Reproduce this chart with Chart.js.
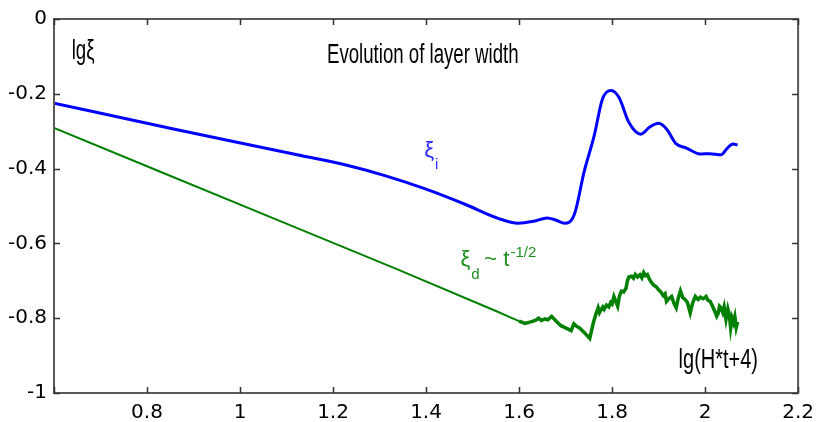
<!DOCTYPE html>
<html>
<head>
<meta charset="utf-8">
<script src="https://cdn.jsdelivr.net/npm/chart.js@4.4.0/dist/chart.umd.min.js"></script>
<style>
  html, body { margin: 0; background: #fff; }
  #wrap { width: 822px; height: 422px; }
</style>
</head>
<body>
<div id="wrap"><canvas id="layerChart"></canvas></div>
<script>
// interface width xi_i (blue) vs lg(H*t+4)
const blueX = [0.600, 0.857, 1.123, 1.230, 1.315, 1.400, 1.485, 1.555, 1.598, 1.634, 1.660, 1.680, 1.698,
    1.719, 1.740, 1.762, 1.779, 1.798, 1.815, 1.836, 1.862, 1.881, 1.900, 1.917, 1.938, 1.960, 1.989,
    2.010, 2.034, 2.048, 2.060, 2.070];
const blueY = [-0.225, -0.294, -0.363, -0.391, -0.420, -0.455, -0.496, -0.533, -0.546, -0.540, -0.532, -0.538, -0.546,
    -0.522, -0.408, -0.310, -0.215, -0.191, -0.210, -0.276, -0.308, -0.289, -0.279, -0.294, -0.334, -0.345, -0.361,
    -0.360, -0.363, -0.345, -0.334, -0.337];

// diffusive width xi_d (green)
const greenX = [0.600, 0.826, 1.123, 1.336, 1.549, 1.585, 1.600, 1.613, 1.625, 1.635, 1.642, 1.648, 1.656, 1.662,
    1.670, 1.680, 1.690, 1.700, 1.712, 1.718, 1.724, 1.730, 1.740, 1.752,
    1.760, 1.765, 1.770, 1.773, 1.776, 1.780, 1.783, 1.788, 1.793, 1.797, 1.800, 1.804, 1.808, 1.812, 1.816,
    1.820, 1.825, 1.830, 1.833, 1.836, 1.842, 1.846, 1.850, 1.855, 1.860, 1.864, 1.868, 1.872, 1.876, 1.880,
    1.885, 1.890, 1.895, 1.900, 1.905, 1.910, 1.914, 1.917, 1.922, 1.928, 1.933, 1.938, 1.942, 1.947, 1.952,
    1.957, 1.962, 1.968, 1.973, 1.979, 1.985, 1.990, 1.996, 2.002, 2.006, 2.011, 2.016, 2.021, 2.025, 2.028,
    2.031, 2.034, 2.038, 2.041, 2.045, 2.049, 2.052, 2.055, 2.058, 2.061, 2.064, 2.067, 2.070];
const greenY = [-0.291, -0.407, -0.559, -0.668, -0.780, -0.800, -0.808, -0.814, -0.810, -0.806, -0.800, -0.806, -0.802, -0.804,
    -0.795, -0.808, -0.820, -0.826, -0.833, -0.815, -0.822, -0.826, -0.838, -0.854,
    -0.811, -0.790, -0.772, -0.785, -0.778, -0.770, -0.776, -0.765, -0.770, -0.758, -0.762, -0.742, -0.755, -0.768, -0.740,
    -0.728, -0.730, -0.720, -0.700, -0.690, -0.688, -0.693, -0.683, -0.690, -0.684, -0.692, -0.678, -0.686, -0.683, -0.695,
    -0.705, -0.712, -0.716, -0.724, -0.730, -0.740, -0.735, -0.755, -0.748, -0.742, -0.760, -0.772, -0.748, -0.727, -0.745,
    -0.750, -0.758, -0.786, -0.760, -0.742, -0.750, -0.744, -0.748, -0.742, -0.752, -0.755, -0.768, -0.782, -0.795, -0.788,
    -0.768, -0.772, -0.785, -0.770, -0.803, -0.775, -0.790, -0.826, -0.800, -0.812, -0.796, -0.825, -0.810];

const xTicks = [0.6, 0.8, 1.0, 1.2, 1.4, 1.6, 1.8, 2.0, 2.2];
const xTickLabels = ["", "0.8", "1", "1.2", "1.4", "1.6", "1.8", "2", "2.2"];
const yTicks = [-1, -0.8, -0.6, -0.4, -0.2, 0];
const yTickLabels = ["-1", "-0.8", "-0.6", "-0.4", "-0.2", "0"];

const toPoints = (xs, ys) => xs.map((x, i) => ({ x: x, y: ys[i] }));

const tickFont = { family: "DejaVu Sans", size: 20 };

// tall narrow lettering: regular sans squeezed horizontally
function squeezed(ctx, text, x, y, size, sx, color) {
    ctx.save();
    ctx.font = size + "px 'Liberation Sans'";
    ctx.fillStyle = color;
    ctx.textBaseline = "alphabetic";
    ctx.translate(x, y);
    ctx.scale(sx, 1);
    ctx.fillText(text, 0, 0);
    ctx.restore();
}

// box with inward ticks on all four sides, plus the annotations
const frame = {
    id: "frame",
    afterDraw(chart) {
        const { ctx, chartArea: a, scales } = chart;
        const xs = scales.x, ys = scales.y;
        ctx.save();
        ctx.strokeStyle = "#5a5a5a";
        ctx.lineWidth = 2;
        ctx.strokeRect(a.left, a.top, a.right - a.left, a.bottom - a.top);
        ctx.lineWidth = 1.5;
        ctx.strokeStyle = "#333";
        ctx.beginPath();
        xTicks.forEach(v => {
            const px = Math.round(xs.getPixelForValue(v)) + 0.5;
            ctx.moveTo(px, a.bottom); ctx.lineTo(px, a.bottom - 6);
            ctx.moveTo(px, a.top); ctx.lineTo(px, a.top + 6);
        });
        yTicks.forEach(v => {
            const py = Math.round(ys.getPixelForValue(v)) + 0.5;
            ctx.moveTo(a.left, py); ctx.lineTo(a.left + 6, py);
            ctx.moveTo(a.right, py); ctx.lineTo(a.right - 6, py);
        });
        ctx.stroke();
        ctx.restore();

        const X = v => xs.getPixelForValue(v), Y = v => ys.getPixelForValue(v);

        squeezed(ctx, "Evolution of layer width", X(1.187), Y(-0.118), 27, 0.69, "#000");
        squeezed(ctx, "lg\u03BE", X(0.638), Y(-0.108), 27, 0.69, "#000");
        squeezed(ctx, "lg(H*t+4)", X(1.943), Y(-0.934), 27, 0.74, "#000");

        ctx.save();
        ctx.textBaseline = "alphabetic";
        // xi_i
        ctx.fillStyle = "#2a2aff";
        ctx.font = "22px 'Liberation Sans'";
        let x0 = X(1.396), y0 = Y(-0.368);
        ctx.fillText("\u03BE", x0, y0);
        let w = ctx.measureText("\u03BE").width;
        ctx.font = "15px 'Liberation Sans'";
        ctx.fillText("i", x0 + w + 1, y0 + 12);

        // xi_d ~ t^-1/2
        ctx.fillStyle = "#1f8f1f";
        ctx.font = "22px 'Liberation Sans'";
        x0 = X(1.474); y0 = Y(-0.66);
        ctx.fillText("\u03BE", x0, y0);
        w = ctx.measureText("\u03BE").width;
        ctx.font = "15px 'Liberation Sans'";
        ctx.fillText("d", x0 + w + 1, y0 + 13);
        ctx.font = "22px 'Liberation Sans'";
        ctx.fillText("~ t", x0 + w + 14, y0);
        const w2 = ctx.measureText("~ t").width;
        ctx.font = "15px 'Liberation Sans'";
        ctx.fillText("-1/2", x0 + w + 15 + w2, y0 - 9);
        ctx.restore();
    }
};

new Chart(document.getElementById("layerChart"), {
    type: "line",
    data: {
        datasets: [
            {
                label: "xi_i",
                data: toPoints(blueX, blueY),
                borderColor: "#0000ff",
                borderWidth: 3,
                pointRadius: 0,
                cubicInterpolationMode: "monotone",
            },
            {
                label: "xi_d",
                data: toPoints(greenX, greenY),
                borderColor: "#008000",
                borderWidth: 2,
                pointRadius: 0,
                tension: 0,
                segment: {
                    borderWidth: c => (c.p0.parsed.x >= 1.6 ? 3.5 : 2),
                },
            },
        ],
    },
    options: {
        responsive: true,
        maintainAspectRatio: false,
        animation: false,
        layout: { padding: { top: 16, right: 16, left: 0, bottom: 0 } },
        plugins: { legend: { display: false }, tooltip: { enabled: false } },
        scales: {
            x: {
                type: "linear",
                min: 0.6,
                max: 2.2,
                grid: { display: false, drawTicks: false },
                border: { display: false },
                afterBuildTicks: s => { s.ticks = xTicks.map(v => ({ value: v })); },
                afterFit: s => { s.height = 29; },
                ticks: {
                    color: "#000",
                    font: tickFont,
                    padding: 8,
                    maxRotation: 0,
                    callback: (v, i) => xTickLabels[i],
                },
            },
            y: {
                min: -1,
                max: 0,
                grid: { display: false, drawTicks: false },
                border: { display: false },
                afterBuildTicks: s => { s.ticks = yTicks.map(v => ({ value: v })); },
                afterFit: s => { s.width = 54; },
                ticks: {
                    color: "#000",
                    font: tickFont,
                    padding: 7,
                    callback: (v, i) => yTickLabels[i],
                },
            },
        },
    },
    plugins: [frame],
});
</script>
</body>
</html>
